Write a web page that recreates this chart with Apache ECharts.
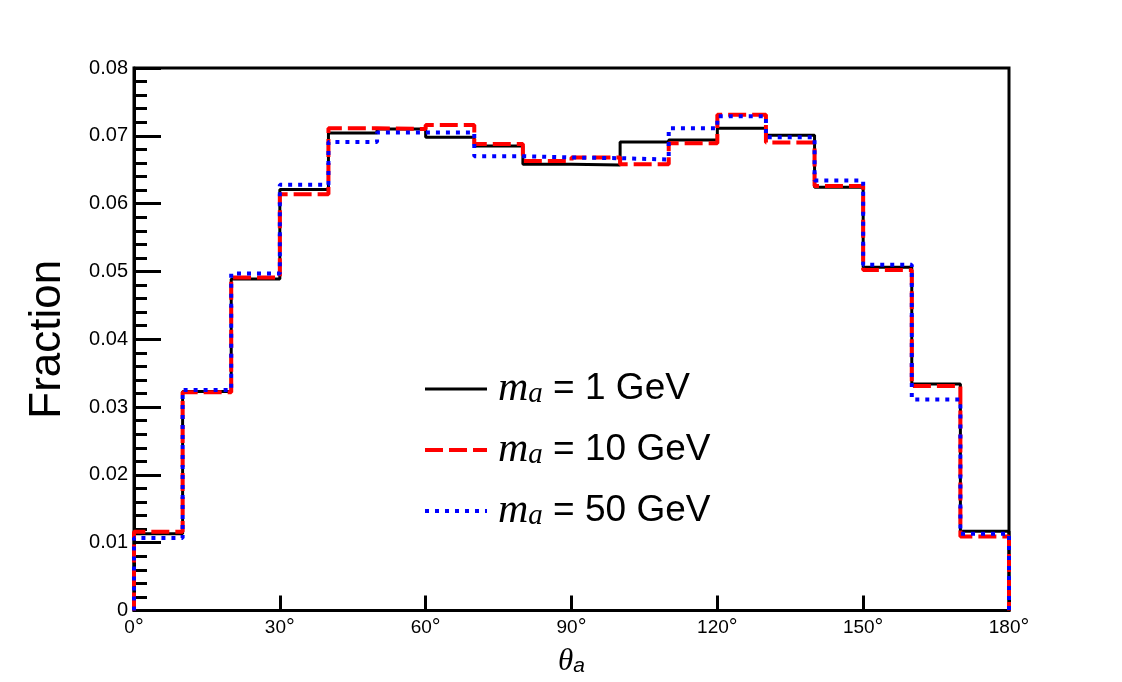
<!DOCTYPE html>
<html>
<head>
<meta charset="utf-8">
<script src="https://cdn.jsdelivr.net/npm/echarts@6/dist/echarts.min.js"></script>
<style>
  html, body { margin: 0; padding: 0; background: #fff; }
  #main { width: 1122px; height: 682px; }
</style>
</head>
<body>
<div id="main"></div>
<script>
// bin edges in degrees (18 bins of 10 deg)
const binEdges = [0, 10, 20, 30, 40, 50, 60, 70, 80, 90, 100, 110, 120, 130, 140, 150, 160, 170, 180];
// fraction per bin
const ma1 = [0.0113, 0.0323, 0.0489, 0.0621, 0.0704, 0.0710, 0.0698, 0.0685, 0.0658, 0.0657, 0.0691, 0.0694, 0.0711, 0.0701, 0.0624, 0.0506, 0.0334, 0.0117];
const ma10 = [0.0116, 0.0322, 0.0491, 0.0614, 0.0711, 0.0710, 0.0716, 0.0688, 0.0663, 0.0668, 0.0658, 0.0689, 0.0731, 0.0690, 0.0626, 0.0502, 0.0331, 0.0109];
const ma50 = [0.0107, 0.0325, 0.0497, 0.0628, 0.0691, 0.0705, 0.0705, 0.0670, 0.0668, 0.0667, 0.0665, 0.0711, 0.0729, 0.0698, 0.0634, 0.0510, 0.0311, 0.0113];
const massLabels = ['1 GeV', '10 GeV', '50 GeV'];
const xTicks = [0, 30, 60, 90, 120, 150, 180];

// histogram outline: up at first edge, steps, down at last edge
function histPoints(vals) {
  let pts = [[binEdges[0], 0]];
  vals.forEach((v, i) => pts.push([binEdges[i], v]));
  pts.push([binEdges[binEdges.length - 1], vals[vals.length - 1]]);
  pts.push([binEdges[binEdges.length - 1], 0]);
  return pts;
}

const names = massLabels.map(m => 'ma = ' + m);
const styles = [
  { color: '#000000', width: 3, type: 'solid' },
  { color: '#ff0000', width: 4, type: [18, 6] },
  { color: '#0000ff', width: 4, type: [4, 6] }
];
const allData = [ma1, ma10, ma50];

let myChart = echarts.init(document.getElementById('main'));
myChart.setOption({
  animation: false,
  backgroundColor: '#fff',
  grid: {
    left: 134,
    right: 113,
    top: 68,
    bottom: 69,
    show: true,
    borderColor: '#000',
    borderWidth: 3,
    containLabel: false
  },
  legend: {
    orient: 'vertical',
    left: 423,
    top: 368,
    padding: 0,
    itemWidth: 62,
    itemHeight: 20,
    itemGap: 19,
    data: names.map((n, i) => ({
      name: n,
      itemStyle: { opacity: 0 },
      lineStyle: { color: styles[i].color, width: styles[i].width, type: styles[i].type, cap: 'butt' }
    })),
    formatter: function (name) {
      let idx = names.indexOf(name);
      return '{m|m}{s|a}{t| = ' + massLabels[idx] + '}';
    },
    textStyle: {
      rich: {
        m: { fontFamily: 'Liberation Serif', fontStyle: 'italic', fontSize: 42, lineHeight: 40, padding: [0, 0, 0, 6], color: '#000' },
        s: { fontFamily: 'Liberation Serif', fontStyle: 'italic', fontSize: 29, lineHeight: 22, verticalAlign: 'bottom', color: '#000' },
        t: { fontFamily: 'Liberation Sans', fontSize: 37, lineHeight: 40, color: '#000' }
      }
    }
  },
  xAxis: {
    type: 'value',
    min: 0,
    max: 180,
    interval: 30,
    name: '{t|θ}{s|a}',
    nameLocation: 'middle',
    nameGap: 36,
    nameTextStyle: {
      rich: {
        t: { fontFamily: 'Liberation Serif', fontStyle: 'italic', fontSize: 31, lineHeight: 30, color: '#000' },
        s: { fontFamily: 'Liberation Sans', fontStyle: 'italic', fontSize: 21, lineHeight: 16, verticalAlign: 'bottom', color: '#000' }
      }
    },
    axisLine: { show: true, lineStyle: { color: '#000', width: 3 } },
    axisTick: { show: true, inside: true, length: 15, lineStyle: { color: '#000', width: 3 } },
    splitLine: { show: false },
    axisLabel: {
      margin: 7,
      formatter: function (v) {
        return xTicks.indexOf(v) >= 0 ? '{n|' + v + '}{d|°}' : '';
      },
      rich: {
        n: { fontFamily: 'Liberation Sans', fontSize: 19, lineHeight: 20, color: '#000' },
        d: { fontFamily: 'Liberation Sans', fontSize: 22, lineHeight: 20, color: '#000' }
      }
    }
  },
  yAxis: {
    type: 'value',
    min: 0,
    max: 0.08,
    interval: 0.01,
    name: 'Fraction',
    nameLocation: 'middle',
    nameGap: 64,
    nameTextStyle: { fontFamily: 'Liberation Sans', fontSize: 44, color: '#000' },
    axisLine: { show: true, lineStyle: { color: '#000', width: 3 } },
    axisTick: { show: true, inside: true, length: 27, lineStyle: { color: '#000', width: 3 } },
    minorTick: { show: true, splitNumber: 5, length: 13, lineStyle: { color: '#000', width: 3 } },
    splitLine: { show: false },
    minorSplitLine: { show: false },
    axisLabel: {
      margin: 6,
      fontFamily: 'Liberation Sans',
      fontSize: 20,
      color: '#000',
      formatter: function (v) {
        return v === 0 ? '0' : v.toFixed(2);
      }
    }
  },
  series: allData.map((vals, i) => ({
    name: names[i],
    type: 'line',
    step: 'end',
    symbol: 'none',
    showSymbol: false,
    data: histPoints(vals),
    lineStyle: { color: styles[i].color, width: styles[i].width, type: styles[i].type, cap: 'butt' },
    itemStyle: { color: styles[i].color },
    z: 2 + i
  }))
});
</script>
</body>
</html>
